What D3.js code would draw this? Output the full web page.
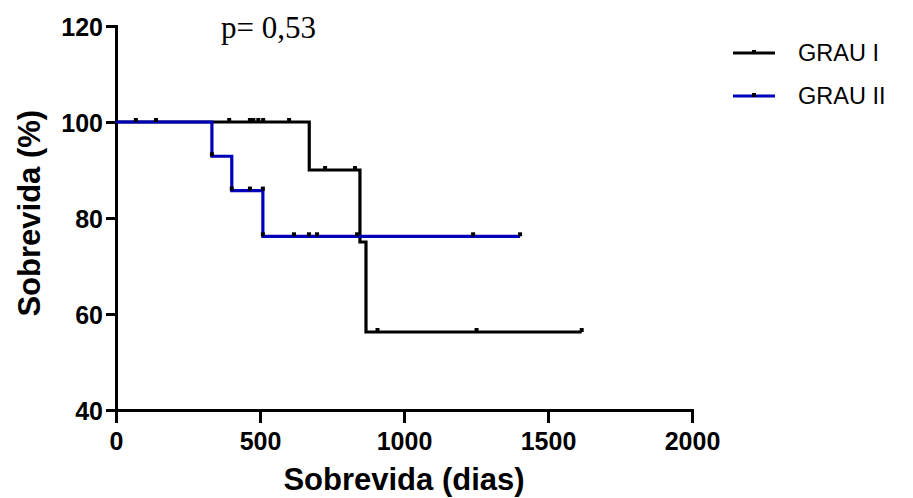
<!DOCTYPE html>
<html>
<head>
<meta charset="utf-8">
<script src="https://cdn.jsdelivr.net/npm/d3@7"></script>
<style>
    body { margin: 0; background: #fff; }
    svg { display: block; }
    .tick text { font-family: 'Liberation Sans', Arial, sans-serif; font-weight: bold; font-size: 25px; }
    .axis-title { font-family: 'Liberation Sans', Arial, sans-serif; font-weight: bold; font-size: 31px; }
    .legend-text { font-family: 'Liberation Sans', Arial, sans-serif; font-size: 23.5px; }
    .p-text { font-family: 'Liberation Serif', 'Times New Roman', serif; font-size: 31px; }
</style>
</head>
<body>
<svg width="913" height="498"></svg>
<script>

//  Kaplan-Meier steps, [day, survival %]
const grau1Steps = [[0, 100], [671, 90], [847, 75], [868, 56.25], [1617, 56.25]];
const grau2Steps = [[0, 100], [333, 92.86], [402, 85.71], [510, 76.19], [1403, 76.19]];

//  Censored points and corner symbols
const grau1Marks = [[69, 100], [139, 100], [393, 100], [465, 100], [477, 100], [494, 100], [511, 100], [601, 100],
                    [726, 90], [830, 90], [908, 56.25], [1252, 56.25], [1617, 56.25]];
const grau2Marks = [[333, 92.86], [402, 85.71], [465, 85.71], [510, 85.71], [510, 76.19], [618, 76.19], [670, 76.19],
                    [698, 76.19], [837, 76.19], [1240, 76.19], [1403, 76.19]];

const seriesNames = ['GRAU I', 'GRAU II'];
const seriesColors = ['#000000', '#0000bb'];

const xTicks = [0, 500, 1000, 1500, 2000];
const yTicks = [40, 60, 80, 100, 120];


const svg = d3.select('svg');
const margin = { top: 26, left: 116, right: 221, bottom: 88 };
const width = 913, height = 498;

//======================================
//  Scales
//======================================
const xScale = d3.scaleLinear()
    .domain([0, 2000])
    .range([margin.left, width - margin.right]);

const yScale = d3.scaleLinear()
    .domain([40, 120])
    .range([height - margin.bottom, margin.top]);


//======================================
//  Axes
//======================================
const xAxisGroup = svg.append('g')
    .attr('transform', `translate(0, ${yScale(40)})`)
    .call(d3.axisBottom(xScale).tickValues(xTicks).tickFormat(d3.format('d'))
        .tickSizeInner(13).tickSizeOuter(0).tickPadding(9));

const yAxisGroup = svg.append('g')
    .attr('transform', `translate(${xScale(0)}, 0)`)
    .call(d3.axisLeft(yScale).tickValues(yTicks).tickFormat(d3.format('d'))
        .tickSizeInner(10).tickSizeOuter(0).tickPadding(3));

[xAxisGroup, yAxisGroup].forEach(g => {
    g.select('.domain').attr('stroke', '#000').attr('stroke-width', 3).attr('stroke-linecap', 'square');
    g.selectAll('.tick line').attr('stroke', '#000').attr('stroke-width', 3);
    g.selectAll('.tick text').attr('fill', '#000');
});
yAxisGroup.selectAll('.tick text').attr('dy', '0.36em');

svg.append('text')
    .attr('class', 'axis-title')
    .attr('text-anchor', 'middle')
    .attr('x', xScale(1000))
    .attr('y', 490)
    .text('Sobrevida (dias)');

svg.append('text')
    .attr('class', 'axis-title')
    .attr('text-anchor', 'middle')
    .attr('transform', `translate(40, ${yScale(81)}) rotate(-90)`)
    .text('Sobrevida (%)');


//======================================
//  Curves
//======================================
const line = d3.line()
    .x(d => xScale(d[0]))
    .y(d => yScale(d[1]))
    .curve(d3.curveStepAfter);

[grau1Steps, grau2Steps].forEach((steps, i) => {
    svg.append('path')
        .datum(steps)
        .attr('fill', 'none')
        .attr('stroke', seriesColors[i])
        .attr('stroke-width', 3.2)
        .attr('stroke-linejoin', 'miter')
        .attr('d', line);
});

//  small square symbols, GraphPad style
svg.append('g')
    .selectAll('rect')
    .data(grau1Marks.concat(grau2Marks))
    .join('rect')
    .attr('x', d => xScale(d[0]) - 2)
    .attr('y', d => yScale(d[1]) - 4)
    .attr('width', 4)
    .attr('height', 4)
    .attr('fill', '#000');


//======================================
//  p value and legend
//======================================
svg.append('text')
    .attr('class', 'p-text')
    .attr('x', 221)
    .attr('y', 38)
    .text('p= 0,53');

const legend = svg.append('g');
seriesNames.forEach((name, i) => {
    const ly = 53 + i * 43;
    legend.append('line')
        .attr('x1', 733).attr('x2', 775)
        .attr('y1', ly).attr('y2', ly)
        .attr('stroke', seriesColors[i])
        .attr('stroke-width', 3.2);
    legend.append('rect')
        .attr('x', 752).attr('y', ly - 3)
        .attr('width', 4).attr('height', 4)
        .attr('fill', '#000');
    legend.append('text')
        .attr('class', 'legend-text')
        .attr('x', 798)
        .attr('y', ly + 8)
        .text(name);
});

</script>
</body>
</html>
